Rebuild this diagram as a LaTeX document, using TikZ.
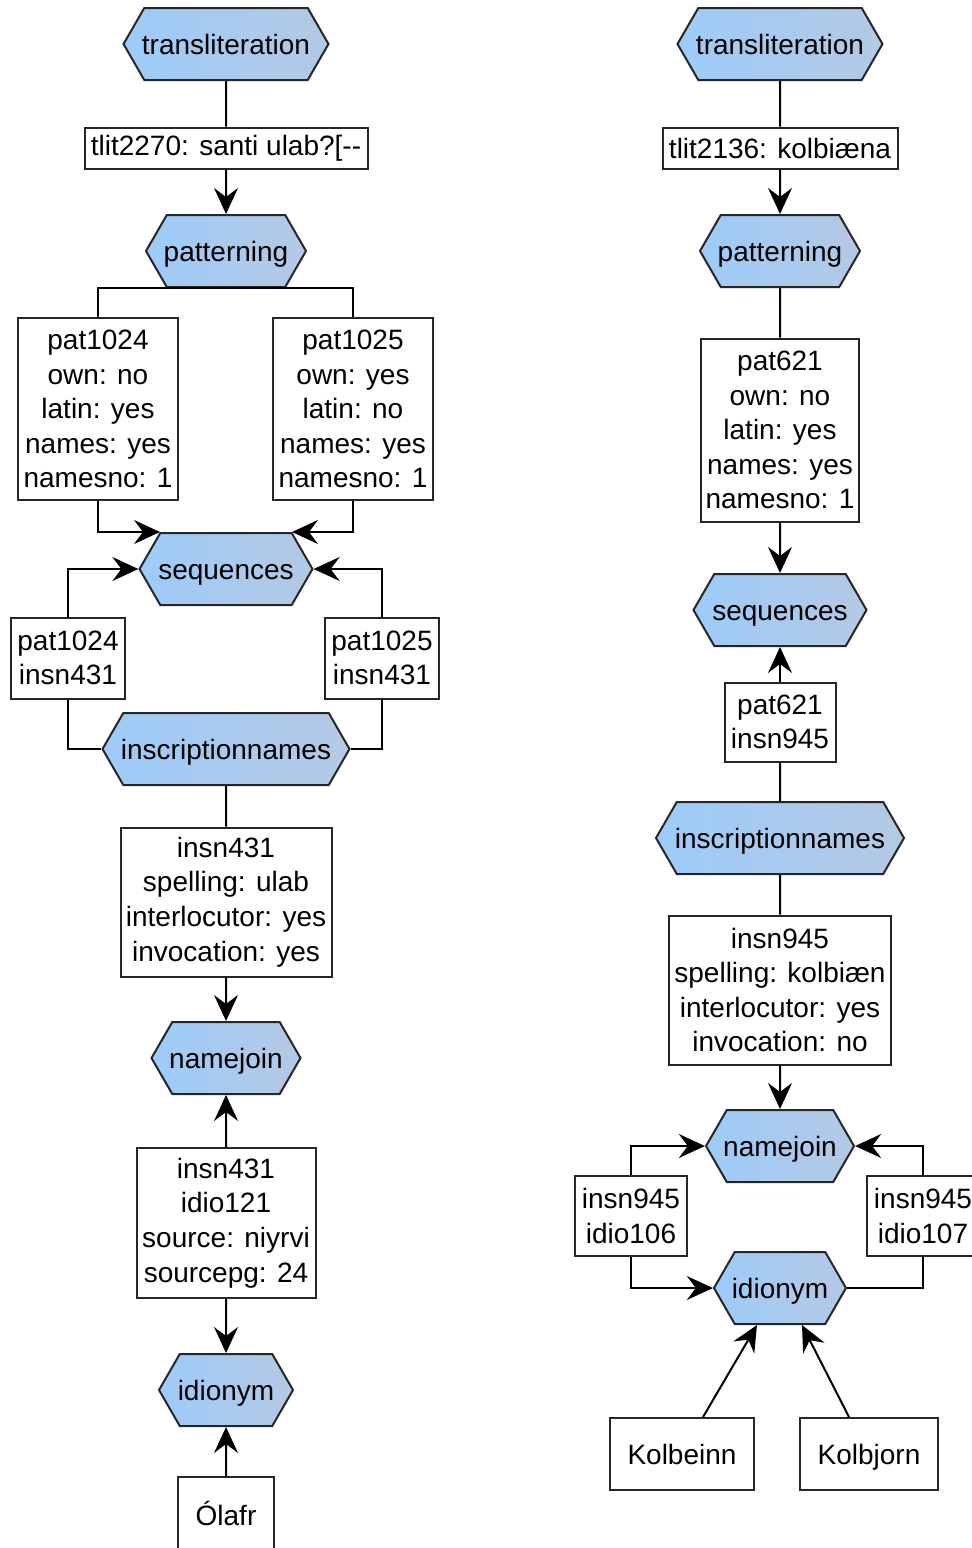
\documentclass[tikz,border=0pt]{standalone}
\usepackage{fontspec}
\setmainfont{Liberation Sans}
\usetikzlibrary{shapes.symbols,arrows.meta}
\definecolor{hexleft}{HTML}{9DCBF9}
\definecolor{hexright}{HTML}{B4C9E4}
\tikzset{
  hexa/.style={signal, signal to=west and east, signal pointer angle=120, draw=black!85, line width=1pt,
    left color=hexleft, right color=hexright, minimum height=36pt, inner xsep=-3pt,
    text height=11pt, text depth=0.5pt, font=\fontsize{14}{17.3}\selectfont},
  rec/.style={draw=black!85, line width=1pt, fill=white, align=center, inner sep=1pt,
    font=\fontsize{14}{17.3}\selectfont},
  arr/.style={line width=1pt, -{Stealth[length=13pt,width=12pt,inset=4.5pt]}},
  lin/.style={line width=1pt}
}

\begin{document}
\begin{tikzpicture}[x=0.5pt, y=-0.5pt]
\useasboundingbox (0,0) rectangle (971,1548);
% left: tlit2270
\node[hexa, minimum width=102.5pt] (trL) at (226,44) {transliteration};
\node[rec, minimum width=141.5pt, minimum height=20.5pt] (tlitL) at (226,148) {tlit2270: santi ulab?[-{}-};
\node[hexa, minimum width=80pt] (patL) at (226,251) {patterning};
\node[rec, minimum width=80pt, minimum height=91pt] (p1024) at (98,409) {pat1024\\own: no\\latin: yes\\names: yes\\namesno: 1};
\node[rec, minimum width=80pt, minimum height=91pt] (p1025) at (353,409) {pat1025\\own: yes\\latin: no\\names: yes\\namesno: 1};
\node[hexa, minimum width=86.5pt] (seqL) at (226,569) {sequences};
\node[rec, minimum width=57pt, minimum height=40.5pt] (pi1024) at (68,658) {pat1024\\insn431};
\node[rec, minimum width=57pt, minimum height=40.5pt] (pi1025) at (382,658) {pat1025\\insn431};
\node[hexa, minimum width=123.5pt] (insL) at (226,749) {inscriptionnames};
\node[rec, minimum width=105.5pt, minimum height=74.5pt] (insn431) at (226,902) {insn431\\spelling: ulab\\interlocutor: yes\\invocation: yes};
\node[hexa, minimum width=74.5pt] (njL) at (226,1058) {namejoin};
\node[rec, minimum width=89.5pt, minimum height=75pt] (idio121) at (226,1223) {insn431\\idio121\\source: niyrvi\\sourcepg: 24};
\node[hexa, minimum width=67pt] (idL) at (226,1390) {idionym};
\node[rec, minimum width=48pt, minimum height=36pt] (olafr) at (226,1513) {Ólafr};

\draw[lin] (trL) -- (tlitL);
\draw[arr] (tlitL) -- (patL);
\draw[lin] (p1024.north) |- (patL.south) -| (p1025.north);
\draw[arr] (p1024.south) |- ([xshift=-33pt]seqL.north);
\draw[arr] (p1025.south) |- ([xshift=33pt]seqL.north);
\draw[arr] (pi1024.north) |- (seqL.west);
\draw[arr] (pi1025.north) |- (seqL.east);
\draw[lin] (pi1024.south) |- (insL.west);
\draw[lin] (pi1025.south) |- (insL.east);
\draw[lin] (insL) -- (insn431);
\draw[arr] (insn431) -- (njL);
\draw[arr] (idio121) -- (njL);
\draw[arr] (idio121) -- (idL);
\draw[arr] (olafr) -- (idL);

% right: tlit2136
\node[hexa, minimum width=102.5pt] (trR) at (780,44) {transliteration};
\node[rec, minimum width=117.5pt, minimum height=20.5pt] (tlitR) at (780,148) {tlit2136: kolbiæna};
\node[hexa, minimum width=80pt] (patR) at (780,251) {patterning};
\node[rec, minimum width=79pt, minimum height=91.5pt] (p621) at (780,430) {pat621\\own: no\\latin: yes\\names: yes\\namesno: 1};
\node[hexa, minimum width=86.5pt] (seqR) at (780,610) {sequences};
\node[rec, minimum width=55.5pt, minimum height=39.5pt] (pi621) at (780,722) {pat621\\insn945};
\node[hexa, minimum width=124pt] (insR) at (780,838) {inscriptionnames};
\node[rec, minimum width=111pt, minimum height=74.5pt] (insn945) at (780,990) {insn945\\spelling: kolbiæn\\interlocutor: yes\\invocation: no};
\node[hexa, minimum width=74pt] (njR) at (780,1146) {namejoin};
\node[rec, minimum width=56pt, minimum height=40pt] (ii106) at (631,1216) {insn945\\idio106};
\node[rec, minimum width=56pt, minimum height=40pt] (ii107) at (923,1216) {insn945\\idio107};
\node[hexa, minimum width=66pt] (idR) at (780,1288) {idionym};
\node[rec, minimum width=72pt, minimum height=36pt, text height=10pt, text depth=0pt] (kolbeinn) at (682,1454) {Kolbeinn};
\node[rec, minimum width=69pt, minimum height=36pt, text height=10pt, text depth=0pt] (kolbjorn) at (869,1454) {Kolbjorn};

\draw[lin] (trR) -- (tlitR);
\draw[arr] (tlitR) -- (patR);
\draw[lin] (patR) -- (p621);
\draw[arr] (p621) -- (seqR);
\draw[arr] (pi621) -- (seqR);
\draw[lin] (pi621) -- (insR);
\draw[lin] (insR) -- (insn945);
\draw[arr] (insn945) -- (njR);
\draw[arr] (ii106.north) |- (njR.west);
\draw[arr] (ii107.north) |- (njR.east);
\draw[arr] (ii106.south) |- (idR.west);
\draw[lin] (ii107.south) |- (idR.east);
\draw[arr] ([xshift=10.5pt]kolbeinn.north) -- ([xshift=-11.5pt]idR.south);
\draw[arr] ([xshift=-10pt]kolbjorn.north) -- ([xshift=11pt]idR.south);
\end{tikzpicture}
\end{document}
